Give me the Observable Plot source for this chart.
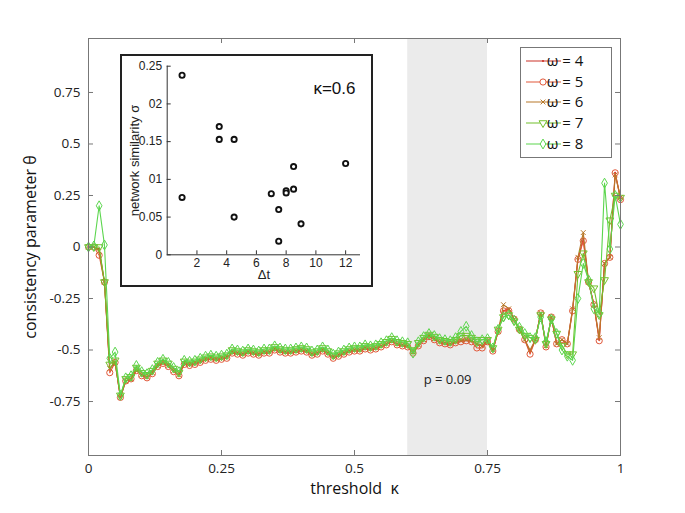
<!DOCTYPE html>
<html><head><meta charset="utf-8">
<script src="https://cdn.jsdelivr.net/npm/d3@7"></script>
<script src="https://cdn.jsdelivr.net/npm/@observablehq/plot@0.6"></script>
<style>
body{margin:0;background:#fff;}
#wrap{position:relative;width:685px;height:513px;overflow:hidden;background:#fff;}
#inset{position:absolute;left:120px;top:54px;width:253px;height:233px;border:2px solid #222;box-sizing:border-box;background:#fff;}
#inset svg,#main svg{display:block;}
</style></head><body>
<div id="wrap"><div id="main"></div><div id="inset"></div></div>
<script>
// ---------- main chart data ----------
const kappa = [0,0.01,0.02,0.03,0.04,0.05,0.06,0.07,0.08,0.09,0.1,0.11,0.12,0.13,0.14,0.15,0.16,0.17,0.18,0.19,0.2,0.21,0.22,0.23,0.24,0.25,0.26,0.27,0.28,0.29,0.3,0.31,0.32,0.33,0.34,0.35,0.36,0.37,0.38,0.39,0.4,0.41,0.42,0.43,0.44,0.45,0.46,0.47,0.48,0.49,0.5,0.51,0.52,0.53,0.54,0.55,0.56,0.57,0.58,0.59,0.6,0.61,0.62,0.63,0.64,0.65,0.66,0.67,0.68,0.69,0.7,0.71,0.72,0.73,0.74,0.75,0.76,0.77,0.78,0.79,0.8,0.81,0.82,0.83,0.84,0.85,0.86,0.87,0.88,0.89,0.9,0.91,0.92,0.93,0.94,0.95,0.96,0.97,0.98,0.99,1];

const w4 = [0,0,-0.01,-0.17,-0.59,-0.56,-0.73,-0.65,-0.64,-0.595,
-0.62,-0.63,-0.61,-0.575,-0.56,-0.575,-0.6,-0.62,-0.565,-0.57,
-0.565,-0.555,-0.545,-0.54,-0.545,-0.54,-0.535,-0.51,-0.515,-0.52,
-0.51,-0.515,-0.52,-0.51,-0.51,-0.495,-0.505,-0.51,-0.51,-0.505,
-0.5,-0.505,-0.52,-0.515,-0.5,-0.515,-0.535,-0.525,-0.515,-0.505,
-0.5,-0.5,-0.49,-0.495,-0.49,-0.48,-0.47,-0.455,-0.47,-0.475,
-0.48,-0.51,-0.475,-0.45,-0.43,-0.445,-0.46,-0.465,-0.47,-0.46,
-0.455,-0.45,-0.455,-0.47,-0.48,-0.455,-0.5,-0.41,-0.31,-0.3,
-0.35,-0.4,-0.45,-0.51,-0.45,-0.32,-0.48,-0.34,-0.47,-0.45,
-0.47,-0.3,-0.06,0.04,-0.17,-0.28,-0.45,-0.08,-0.05,0.36,
0.24];

const w5 = [0,0,-0.04,-0.17,-0.61,-0.56,-0.73,-0.65,-0.64,-0.6,
-0.625,-0.635,-0.615,-0.58,-0.565,-0.58,-0.605,-0.625,-0.57,-0.575,
-0.57,-0.56,-0.55,-0.545,-0.55,-0.545,-0.54,-0.515,-0.52,-0.525,
-0.515,-0.52,-0.525,-0.515,-0.515,-0.5,-0.51,-0.515,-0.515,-0.51,
-0.505,-0.51,-0.525,-0.52,-0.505,-0.52,-0.54,-0.53,-0.52,-0.51,
-0.505,-0.505,-0.495,-0.5,-0.495,-0.485,-0.475,-0.46,-0.475,-0.48,
-0.485,-0.515,-0.48,-0.455,-0.435,-0.45,-0.465,-0.47,-0.475,-0.465,
-0.46,-0.455,-0.46,-0.49,-0.49,-0.46,-0.505,-0.41,-0.31,-0.31,
-0.35,-0.4,-0.45,-0.52,-0.45,-0.32,-0.485,-0.34,-0.47,-0.45,
-0.47,-0.31,-0.06,0.03,-0.17,-0.28,-0.455,-0.08,-0.05,0.36,
0.23];

const w6 = [0,0,-0.02,-0.17,-0.59,-0.56,-0.73,-0.65,-0.64,-0.595,
-0.62,-0.63,-0.61,-0.575,-0.56,-0.575,-0.6,-0.62,-0.565,-0.57,
-0.565,-0.555,-0.545,-0.54,-0.545,-0.54,-0.535,-0.51,-0.515,-0.52,
-0.51,-0.515,-0.52,-0.51,-0.51,-0.495,-0.505,-0.51,-0.51,-0.505,
-0.5,-0.505,-0.52,-0.515,-0.5,-0.515,-0.535,-0.525,-0.515,-0.505,
-0.5,-0.5,-0.49,-0.495,-0.49,-0.48,-0.47,-0.455,-0.47,-0.475,
-0.48,-0.51,-0.475,-0.45,-0.43,-0.445,-0.46,-0.465,-0.47,-0.46,
-0.455,-0.45,-0.455,-0.47,-0.48,-0.455,-0.5,-0.41,-0.28,-0.3,
-0.35,-0.4,-0.45,-0.5,-0.45,-0.32,-0.48,-0.34,-0.47,-0.45,
-0.47,-0.3,-0.05,0.07,-0.17,-0.28,-0.44,-0.08,-0.05,0.35,
0.24];

const w7 = [0,0,0,-0.17,-0.57,-0.55,-0.72,-0.64,-0.63,-0.585,
-0.61,-0.62,-0.6,-0.565,-0.55,-0.565,-0.59,-0.61,-0.555,-0.56,
-0.555,-0.545,-0.535,-0.53,-0.535,-0.53,-0.525,-0.5,-0.505,-0.51,
-0.5,-0.505,-0.51,-0.5,-0.5,-0.485,-0.495,-0.5,-0.5,-0.495,
-0.49,-0.495,-0.51,-0.505,-0.49,-0.505,-0.525,-0.515,-0.505,-0.495,
-0.49,-0.49,-0.48,-0.485,-0.48,-0.47,-0.46,-0.445,-0.46,-0.465,
-0.47,-0.5,-0.465,-0.44,-0.425,-0.435,-0.45,-0.455,-0.46,-0.45,
-0.43,-0.43,-0.44,-0.45,-0.45,-0.45,-0.49,-0.4,-0.34,-0.33,
-0.36,-0.4,-0.43,-0.44,-0.45,-0.33,-0.47,-0.35,-0.42,-0.48,
-0.52,-0.52,-0.13,-0.03,-0.17,-0.2,-0.33,-0.16,0.13,0.25,
0.24];

const w8 = [0,0.005,0.2,0.01,-0.54,-0.51,-0.72,-0.635,-0.625,-0.575,
-0.605,-0.615,-0.595,-0.56,-0.545,-0.56,-0.585,-0.605,-0.55,-0.555,
-0.55,-0.54,-0.53,-0.525,-0.53,-0.525,-0.52,-0.495,-0.5,-0.505,
-0.495,-0.5,-0.505,-0.495,-0.495,-0.48,-0.49,-0.495,-0.495,-0.49,
-0.485,-0.49,-0.505,-0.5,-0.485,-0.5,-0.52,-0.51,-0.5,-0.49,
-0.485,-0.485,-0.475,-0.48,-0.475,-0.465,-0.455,-0.44,-0.455,-0.46,
-0.465,-0.515,-0.46,-0.435,-0.42,-0.43,-0.445,-0.45,-0.455,-0.44,
-0.41,-0.385,-0.43,-0.46,-0.45,-0.445,-0.49,-0.4,-0.34,-0.33,
-0.355,-0.39,-0.42,-0.44,-0.44,-0.34,-0.46,-0.35,-0.42,-0.5,
-0.53,-0.55,-0.25,-0.08,-0.16,-0.3,-0.32,0.31,-0.01,0.25,
0.11];

const seriesNames = ["ω = 4","ω = 5","ω = 6","ω = 7","ω = 8"];
const xTicks = [0,0.25,0.5,0.75,1];
const yTicks = [-0.75,-0.5,-0.25,0,0.25,0.5,0.75];
const bandRange = [0.6,0.75];
const pNote = {k:0.675, v:-0.645, text:"p = 0.09"};
const xTitle = "threshold  κ";
const yTitle = "consistency parameter θ";

// ---------- inset data ----------
const dt    = [1,1,3.5,3.5,4.5,4.5,7,7.5,7.5,8,8,8.5,8.5,9,12];
const sigma = [0.238,0.076,0.17,0.153,0.153,0.05,0.081,0.06,0.018,0.085,0.082,0.117,0.087,0.041,0.121];
const insetXTicks = [2,4,6,8,10,12];
const insetYTicks = [0,0.05,0.1,0.15,0.2,0.25];
const insetYLabels = ["0","0.05","01","0.15","02","0.25"];
const insetTitle = "κ=0.6";

// ---------- styles ----------
const triDown = {draw(ctx, size){const s=Math.sqrt(size/(3*Math.sqrt(3)));ctx.moveTo(0,2*s);ctx.lineTo(-Math.sqrt(3)*s,-s);ctx.lineTo(Math.sqrt(3)*s,-s);ctx.closePath();}};
const styles = [
  {color:"#cc3328", symbol:"circle", r:1.1, fill:true, d3sym:d3.symbolCircle},
  {color:"#e2583a", symbol:"circle", r:3.1, fill:false, d3sym:d3.symbolCircle},
  {color:"#b8792a", symbol:"times", r:2.3, fill:false, d3sym:d3.symbolTimes},
  {color:"#72c02c", symbol:triDown, r:2.9, fill:false, d3sym:triDown},
  {color:"#5cd64e", symbol:"diamond", r:3.0, fill:false, d3sym:d3.symbolDiamond}
];
const allValues = [w4,w5,w6,w7,w8];

const W=685,H=513,mL=88,mR=65,mT=38,mB=58;
const iW=W-mL-mR, iH=H-mT-mB;
const FONT = "'Open Sans', 'Noto Sans', sans-serif";

const seriesMarks = allValues.flatMap((vals,si)=>{
  const st = styles[si];
  const data = kappa.map((k,i)=>({k, v:vals[i]}));
  return [
    Plot.line(data,{x:"k",y:"v",stroke:st.color,strokeWidth:1.1}),
    Plot.dot(data,{x:"k",y:"v",symbol:st.symbol,r:st.r,stroke:st.fill?"none":st.color,fill:st.fill?st.color:"none",strokeWidth:1})
  ];
});

const main = Plot.plot({
  width:W,height:H,marginLeft:mL,marginRight:mR,marginTop:mT,marginBottom:mB,
  style:{fontFamily:FONT,fontSize:"13px",color:"#222",background:"#fff"},
  x:{domain:[0,1]},
  y:{domain:[-1.012,1.012]},
  marks:[
    Plot.rect([bandRange],{x1:d=>d[0],x2:d=>d[1],fill:"#ebebeb"}),
    ...seriesMarks,
    Plot.frame({stroke:"#777",strokeWidth:1}),
    Plot.tickY(yTicks,{y:d=>d,insetRight:iW-5,stroke:"#777"}),
    Plot.tickY(yTicks,{y:d=>d,insetLeft:iW-5,stroke:"#777"}),
    Plot.tickX(xTicks,{x:d=>d,insetTop:iH-5,stroke:"#777"}),
    Plot.tickX(xTicks,{x:d=>d,insetBottom:iH-5,stroke:"#777"}),
    Plot.axisX(xTicks,{tickSize:0,tickPadding:8,tickFormat:d=>String(d),label:null,fontSize:13.5}),
    Plot.axisY(yTicks,{tickSize:0,tickPadding:8,tickFormat:d=>String(d),label:null,fontSize:13.5}),
    Plot.text([pNote],{x:"k",y:"v",text:"text",fontSize:13,fill:"#222"}),
    Plot.text([xTitle],{frameAnchor:"bottom",dy:38,text:d=>d,fontSize:16,fill:"#111",textAnchor:"middle"}),
    Plot.text([yTitle],{frameAnchor:"left",dx:-58,rotate:-90,text:d=>d,fontSize:16,fill:"#111",textAnchor:"middle"})
  ]
});
document.getElementById("main").appendChild(main);

// legend
const svg = d3.select(main);
const lg = svg.append("g");
lg.append("rect").attr("x",520.5).attr("y",47.5).attr("width",91).attr("height",110).attr("fill","#fff").attr("stroke","#777");
const rowsY=[61,82,102,123,144];
seriesNames.forEach((name,i)=>{
  const st=styles[i], y=rowsY[i];
  lg.append("line").attr("x1",526).attr("x2",561).attr("y1",y).attr("y2",y).attr("stroke",st.color).attr("stroke-width",1.1);
  lg.append("path").attr("transform",`translate(543,${y})`)
    .attr("d",d3.symbol(st.d3sym, Math.PI*st.r*st.r)())
    .attr("fill",st.fill?st.color:"#fff").attr("stroke",st.fill?"none":st.color).attr("stroke-width",1);
  lg.append("text").attr("x",565).attr("y",y).attr("dy","0.35em").attr("font-size",15).attr("font-family",FONT).attr("fill","#111").text(name);
});

// ---------- inset ----------
const IW=249, IH=229, imL=44.7, imR=11, imT=9.7, imB=30.7;
const iiW=IW-imL-imR, iiH=IH-imT-imB;
const yLabelMap = new Map(insetYTicks.map((t,i)=>[t,insetYLabels[i]]));
const pts = dt.map((d,i)=>({dt:d, s:sigma[i]}));
const IFONT = "'Liberation Sans', Arial, sans-serif";
const inset = Plot.plot({
  width:IW,height:IH,marginLeft:imL,marginRight:imR,marginTop:imT,marginBottom:imB,
  style:{fontFamily:IFONT,fontSize:"11.5px",color:"#222",background:"#fff"},
  x:{domain:[0,13]},
  y:{domain:[0,0.25]},
  marks:[
    Plot.ruleX([0],{stroke:"#333"}),
    Plot.ruleY([0],{stroke:"#333"}),
    Plot.tickX(insetXTicks,{x:d=>d,insetTop:iiH-4,stroke:"#333"}),
    Plot.tickY(insetYTicks,{y:d=>d,insetRight:iiW-4,stroke:"#333"}),
    Plot.axisX(insetXTicks,{tickSize:0,tickPadding:4,label:null,fontSize:12}),
    Plot.axisY(insetYTicks,{tickSize:0,tickPadding:5,tickFormat:d=>yLabelMap.get(d),label:null,fontSize:12}),
    Plot.dot(pts,{x:"dt",y:"s",r:2.6,stroke:"#111",strokeWidth:1.9,fill:"#fff"}),
    Plot.text([insetTitle],{frameAnchor:"top-right",dx:-5,dy:16,text:d=>d,fontSize:17,fill:"#111",textAnchor:"end"}),
    Plot.text(["Δt"],{frameAnchor:"bottom",dy:24,text:d=>d,fontSize:13,fill:"#222",textAnchor:"middle"}),
    Plot.text(["network similarity σ"],{frameAnchor:"left",dx:-32,rotate:-90,text:d=>d,fontSize:13,fill:"#222",textAnchor:"middle"})
  ]
});
document.getElementById("inset").appendChild(inset);
</script>
</body></html>
